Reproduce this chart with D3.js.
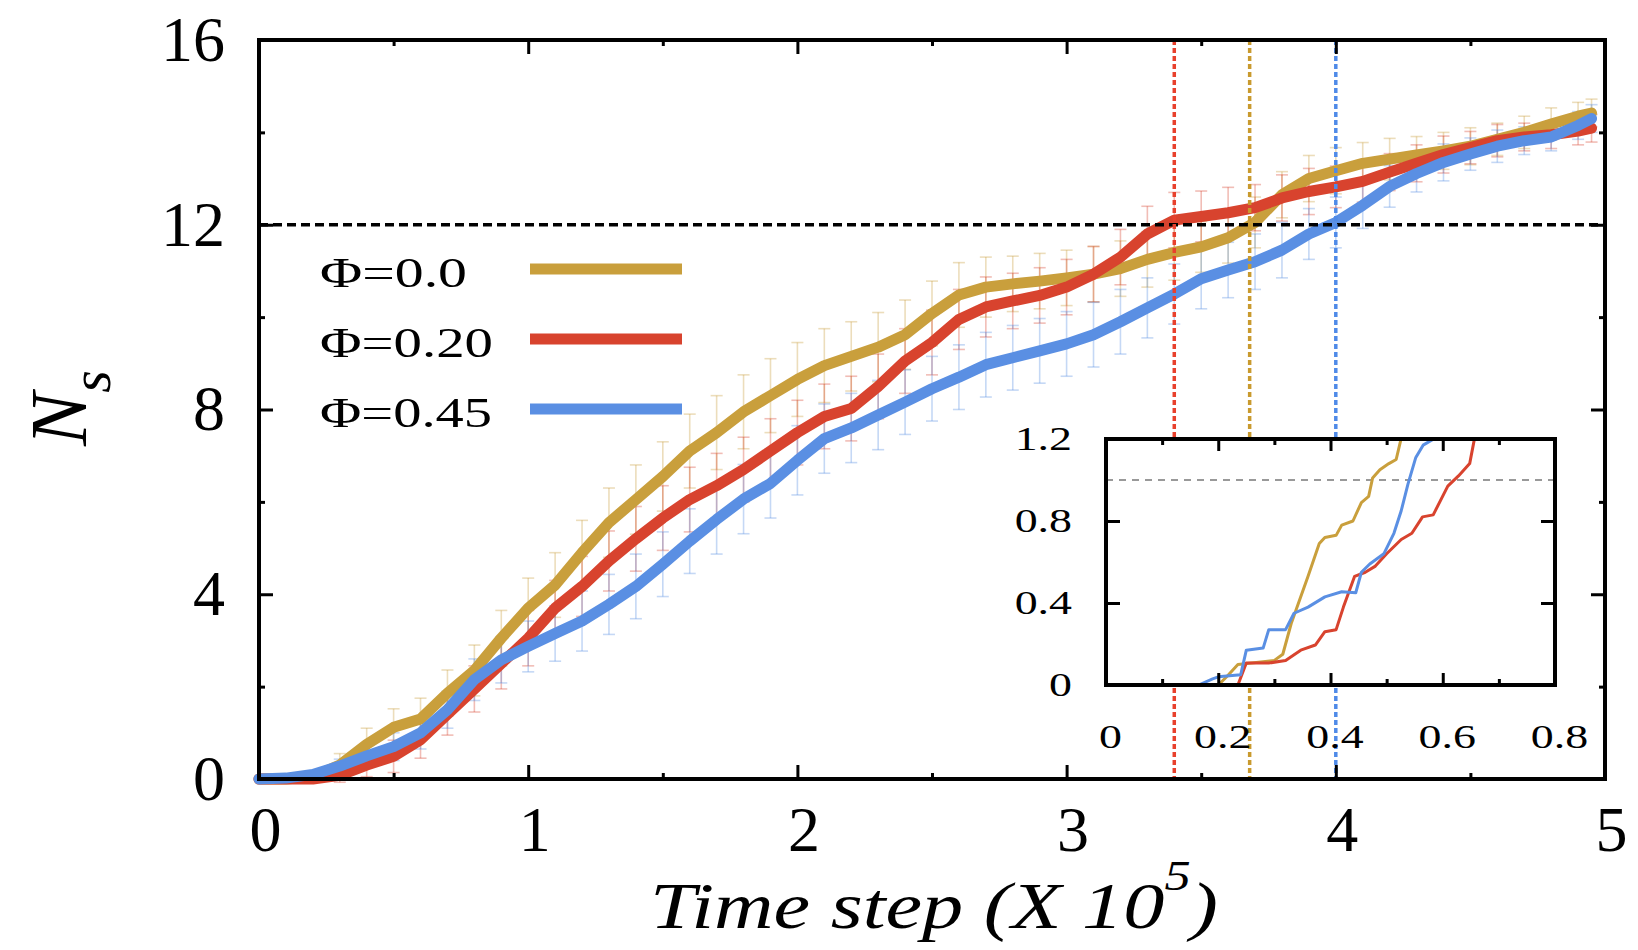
<!DOCTYPE html>
<html>
<head>
<meta charset="utf-8">
<script src="https://cdn.jsdelivr.net/npm/d3@7"></script>
<style>
body { margin: 0; background: #fff; }
svg { display: block; }
text { font-family: "Liberation Serif", "Times New Roman", serif; }
</style>
</head>
<body>
<svg id="chart"></svg>
<script>
// time steps (x 10^5)
let times = [0, 0.1, 0.2, 0.3, 0.4, 0.5, 0.6, 0.7, 0.8, 0.9,
	1.0, 1.1, 1.2, 1.3, 1.4, 1.5, 1.6, 1.7, 1.8, 1.9,
	2.0, 2.1, 2.2, 2.3, 2.4, 2.5, 2.6, 2.7, 2.8, 2.9,
	3.0, 3.1, 3.2, 3.3, 3.4, 3.5, 3.6, 3.7, 3.8, 3.9,
	4.0, 4.1, 4.2, 4.3, 4.4, 4.5, 4.6, 4.7, 4.8, 4.9, 4.95];

let seriesNames = ["Φ=0.0", "Φ=0.20", "Φ=0.45"];

let phi00 = [0, 0, 0.05, 0.3, 0.75, 1.12, 1.3, 1.86, 2.35, 3.05,
	3.7, 4.2, 4.9, 5.55, 6.05, 6.55, 7.1, 7.5, 7.95, 8.3,
	8.65, 8.95, 9.15, 9.35, 9.62, 10.08, 10.48, 10.65, 10.72, 10.78,
	10.85, 10.93, 11.05, 11.25, 11.4, 11.52, 11.72, 12.05, 12.65, 13.0,
	13.17, 13.33, 13.42, 13.51, 13.6, 13.7, 13.85, 14.0, 14.18, 14.35, 14.42];

let phi20 = [0, 0, 0, 0.08, 0.3, 0.49, 0.85, 1.4, 1.95, 2.5,
	3.05, 3.7, 4.17, 4.72, 5.2, 5.65, 6.05, 6.35, 6.7, 7.1,
	7.5, 7.85, 8.02, 8.5, 9.05, 9.45, 9.95, 10.22, 10.35, 10.47,
	10.65, 10.93, 11.3, 11.8, 12.1, 12.18, 12.26, 12.37, 12.58, 12.72,
	12.82, 12.94, 13.14, 13.33, 13.52, 13.67, 13.82, 13.9, 13.95, 14.03, 14.09];

let phi45 = [0, 0.02, 0.1, 0.28, 0.5, 0.7, 1.0, 1.5, 2.15, 2.58,
	2.87, 3.15, 3.42, 3.78, 4.17, 4.65, 5.15, 5.62, 6.06, 6.4,
	6.9, 7.37, 7.6, 7.88, 8.16, 8.45, 8.7, 8.97, 9.12, 9.27,
	9.42, 9.62, 9.9, 10.2, 10.5, 10.83, 11.02, 11.2, 11.45, 11.8,
	12.05, 12.42, 12.83, 13.11, 13.35, 13.53, 13.7, 13.82, 13.9, 14.15, 14.3];

let err00 = [0, 0, 0.1, 0.25, 0.35, 0.4, 0.45, 0.5, 0.55, 0.6,
	0.65, 0.7, 0.7, 0.75, 0.75, 0.75, 0.8, 0.8, 0.8, 0.8,
	0.8, 0.8, 0.75, 0.75, 0.75, 0.7, 0.7, 0.65, 0.6, 0.6,
	0.6, 0.6, 0.6, 0.6, 0.6, 0.55, 0.55, 0.55, 0.5, 0.5,
	0.5, 0.45, 0.45, 0.4, 0.4, 0.4, 0.35, 0.35, 0.35, 0.3, 0.3];

let err20 = [0, 0, 0.05, 0.15, 0.25, 0.35, 0.4, 0.45, 0.5, 0.55,
	0.6, 0.6, 0.65, 0.65, 0.7, 0.7, 0.7, 0.7, 0.7, 0.7,
	0.7, 0.7, 0.7, 0.7, 0.7, 0.7, 0.65, 0.65, 0.6, 0.6,
	0.6, 0.6, 0.6, 0.6, 0.6, 0.55, 0.55, 0.5, 0.5, 0.5,
	0.45, 0.45, 0.4, 0.4, 0.4, 0.35, 0.35, 0.3, 0.3, 0.3, 0.3];

let err45 = [0, 0, 0.05, 0.15, 0.25, 0.3, 0.35, 0.4, 0.45, 0.5,
	0.55, 0.6, 0.65, 0.65, 0.7, 0.7, 0.7, 0.75, 0.75, 0.75,
	0.75, 0.75, 0.75, 0.75, 0.7, 0.7, 0.7, 0.7, 0.7, 0.7,
	0.7, 0.7, 0.7, 0.65, 0.65, 0.65, 0.6, 0.6, 0.6, 0.55,
	0.55, 0.5, 0.45, 0.4, 0.4, 0.35, 0.35, 0.3, 0.3, 0.3, 0.3];

// time at which each curve reaches N_s = 12
let crossTimes = [3.68, 3.40, 4.0];
let thresholdN = 12;

// inset: early-time zoom, [time, N_s]
let insetPhi00 = [[0, 0], [0.2, 0], [0.215, 0.04], [0.235, 0.1], [0.3, 0.12], [0.315, 0.15], [0.33, 0.3],
	[0.36, 0.53], [0.38, 0.69], [0.39, 0.72], [0.41, 0.73], [0.42, 0.78], [0.44, 0.8], [0.455, 0.89],
	[0.468, 0.92], [0.475, 1.01], [0.488, 1.05], [0.504, 1.08], [0.517, 1.1], [0.53, 1.25]];
let insetPhi20 = [[0, 0], [0.235, 0], [0.25, 0.107], [0.29, 0.107], [0.32, 0.12], [0.347, 0.17], [0.373, 0.195],
	[0.39, 0.26], [0.41, 0.27], [0.423, 0.38], [0.443, 0.53], [0.462, 0.55], [0.48, 0.58], [0.5, 0.64],
	[0.526, 0.71], [0.545, 0.74], [0.564, 0.82], [0.583, 0.83], [0.609, 0.97], [0.628, 1.02],
	[0.648, 1.08], [0.655, 1.18], [0.66, 1.25]];
let insetPhi45 = [[0, 0], [0.165, 0], [0.19, 0.03], [0.2, 0.04], [0.24, 0.05], [0.25, 0.17], [0.28, 0.18],
	[0.29, 0.27], [0.32, 0.27], [0.335, 0.35], [0.36, 0.38], [0.39, 0.43], [0.42, 0.455], [0.445, 0.45],
	[0.455, 0.55], [0.47, 0.59], [0.495, 0.64], [0.513, 0.74], [0.526, 0.85], [0.538, 0.98],
	[0.552, 1.11], [0.565, 1.17], [0.59, 1.21]];
let insetThreshold = 1.0;

let xTicks = [0, 1, 2, 3, 4, 5];
let xMinor = [0.5, 1.5, 2.5, 3.5, 4.5];
let yTicks = [0, 4, 8, 12, 16];
let yMinor = [2, 6, 10, 14];
let insetXTicks = [0, 0.2, 0.4, 0.6, 0.8];
let insetXMinor = [0.1, 0.3, 0.5, 0.7];
let insetYTicks = [0, 0.4, 0.8, 1.2];

function makeChart() {
	let w = 1638;
	let h = 950;
	let plotL = 259, plotR = 1605, plotT = 40, plotB = 779;
	let colors = ['#c99f3c', '#d8432e', '#5a8fe3'];
	let guideColors = ['#c99a2e', '#e8402c', '#4f8ae8'];
	let serif = '"Liberation Serif", "Times New Roman", serif';

	let chart = d3.select('#chart')
		.attr('width', w)
		.attr('height', h);

	let xScale = d3.scaleLinear().domain([0, 5]).range([plotL, plotR]);
	let yScale = d3.scaleLinear().domain([0, 16]).range([plotB, plotT]);

	let series = [phi00, phi20, phi45].map((vals, k) => ({
		name: seriesNames[k],
		color: colors[k],
		points: times.map((t, i) => ({ t: t, v: vals[i], e: [err00, err20, err45][k][i] }))
	}));

	//error bars
	series.forEach(s => {
		let g = chart.append('g')
			.attr('stroke', s.color)
			.attr('stroke-opacity', 0.35)
			.attr('stroke-width', 1.6);
		let bars = s.points.filter(d => d.e > 0);
		g.selectAll('.bar').data(bars).enter().append('line')
			.attr('x1', d => xScale(d.t)).attr('x2', d => xScale(d.t))
			.attr('y1', d => yScale(d.v - d.e)).attr('y2', d => yScale(d.v + d.e));
		g.selectAll('.capTop').data(bars).enter().append('line')
			.attr('x1', d => xScale(d.t) - 6).attr('x2', d => xScale(d.t) + 6)
			.attr('y1', d => yScale(d.v + d.e)).attr('y2', d => yScale(d.v + d.e));
		g.selectAll('.capBot').data(bars).enter().append('line')
			.attr('x1', d => xScale(d.t) - 6).attr('x2', d => xScale(d.t) + 6)
			.attr('y1', d => yScale(d.v - d.e)).attr('y2', d => yScale(d.v - d.e));
	});

	//lines
	let line = d3.line()
		.x(d => xScale(d.t))
		.y(d => yScale(d.v));

	series.forEach(s => {
		chart.append('path')
			.datum(s.points)
			.attr('fill', 'none')
			.attr('stroke', s.color)
			.attr('stroke-width', 11)
			.attr('stroke-linejoin', 'round')
			.attr('stroke-linecap', 'round')
			.attr('d', line);
	});

	//threshold guides
	chart.append('line')
		.attr('x1', plotL).attr('x2', plotR)
		.attr('y1', yScale(thresholdN)).attr('y2', yScale(thresholdN))
		.attr('stroke', '#000')
		.attr('stroke-width', 3.5)
		.attr('stroke-dasharray', '9,5');

	chart.selectAll('.guide')
		.data(crossTimes)
		.enter()
		.append('line')
		.attr('x1', d => xScale(d)).attr('x2', d => xScale(d))
		.attr('y1', plotT).attr('y2', plotB)
		.attr('stroke', (d, i) => guideColors[i])
		.attr('stroke-width', 3.5)
		.attr('stroke-dasharray', '5,3');

	//AXES
	function styleAxis(g, fontSize) {
		g.attr('font-family', serif);
		g.select('.domain').remove();
		g.selectAll('.tick line').attr('stroke', '#000').attr('stroke-width', 3);
		g.selectAll('.tick text').attr('fill', '#000').style('font-size', fontSize + 'px');
	}

	chart.append('g')
		.attr('transform', `translate(0, ${plotB})`)
		.call(d3.axisBottom(xScale).tickValues(xTicks).tickSize(-14).tickPadding(27).tickFormat(d3.format('d')))
		.call(g => styleAxis(g, 64))
		.call(g => g.selectAll('.tick text').attr('dx', 6));
	chart.append('g')
		.attr('transform', `translate(0, ${plotB})`)
		.call(d3.axisBottom(xScale).tickValues(xMinor).tickSize(-6).tickFormat(''))
		.call(g => styleAxis(g, 10));
	chart.append('g')
		.attr('transform', `translate(0, ${plotT})`)
		.call(d3.axisTop(xScale).tickValues(xTicks).tickSize(-14).tickFormat(''))
		.call(g => styleAxis(g, 10));
	chart.append('g')
		.attr('transform', `translate(0, ${plotT})`)
		.call(d3.axisTop(xScale).tickValues(xMinor).tickSize(-6).tickFormat(''))
		.call(g => styleAxis(g, 10));

	chart.append('g')
		.attr('transform', `translate(${plotL}, 0)`)
		.call(d3.axisLeft(yScale).tickValues(yTicks).tickSize(-14).tickPadding(34).tickFormat(d3.format('d')))
		.call(g => styleAxis(g, 64));
	chart.append('g')
		.attr('transform', `translate(${plotL}, 0)`)
		.call(d3.axisLeft(yScale).tickValues(yMinor).tickSize(-6).tickFormat(''))
		.call(g => styleAxis(g, 10));
	chart.append('g')
		.attr('transform', `translate(${plotR}, 0)`)
		.call(d3.axisRight(yScale).tickValues(yTicks).tickSize(-14).tickFormat(''))
		.call(g => styleAxis(g, 10));
	chart.append('g')
		.attr('transform', `translate(${plotR}, 0)`)
		.call(d3.axisRight(yScale).tickValues(yMinor).tickSize(-6).tickFormat(''))
		.call(g => styleAxis(g, 10));

	chart.append('rect')
		.attr('x', plotL).attr('y', plotT)
		.attr('width', plotR - plotL).attr('height', plotB - plotT)
		.attr('fill', 'none')
		.attr('stroke', '#000')
		.attr('stroke-width', 4);

	//LEGEND
	let legendTop = 269;
	let legendGap = 70;
	let legendWidths = [147, 173, 172];
	series.forEach((s, i) => {
		let ly = legendTop + i * legendGap;
		chart.append('text')
			.attr('x', 320)
			.attr('y', ly + 18)
			.attr('textLength', legendWidths[i])
			.attr('lengthAdjust', 'spacingAndGlyphs')
			.style('font-size', '42px')
			.text(s.name);
		chart.append('line')
			.attr('x1', 530).attr('x2', 682)
			.attr('y1', ly).attr('y2', ly)
			.attr('stroke', s.color)
			.attr('stroke-width', 11);
	});

	//INSET
	let inL = 1106, inR = 1555, inT = 439, inB = 685;
	let ix = d3.scaleLinear().domain([0, 0.8]).range([inL, inR]);
	let iy = d3.scaleLinear().domain([0, 1.2]).range([inB, inT]);

	chart.append('rect')
		.attr('x', inL).attr('y', inT)
		.attr('width', inR - inL).attr('height', inB - inT)
		.attr('fill', '#fff');

	chart.append('clipPath').attr('id', 'insetClip')
		.append('rect')
		.attr('x', inL).attr('y', inT)
		.attr('width', inR - inL).attr('height', inB - inT);

	let inset = chart.append('g').attr('clip-path', 'url(#insetClip)');

	inset.append('line')
		.attr('x1', inL).attr('x2', inR)
		.attr('y1', iy(insetThreshold)).attr('y2', iy(insetThreshold))
		.attr('stroke', '#999')
		.attr('stroke-width', 2)
		.attr('stroke-dasharray', '7,6');

	let insetLine = d3.line()
		.x(d => ix(d[0]))
		.y(d => iy(d[1]));

	[insetPhi00, insetPhi20, insetPhi45].forEach((pts, k) => {
		inset.append('path')
			.datum(pts)
			.attr('fill', 'none')
			.attr('stroke', colors[k])
			.attr('stroke-width', 3)
			.attr('stroke-linejoin', 'round')
			.attr('d', insetLine);
	});

	let insetFmt = d => d === 0 ? '0' : d3.format('.1f')(d);
	function stretch(g) {
		g.selectAll('.tick text').each(function () {
			let len = this.getComputedTextLength();
			d3.select(this).attr('textLength', len * 1.35).attr('lengthAdjust', 'spacingAndGlyphs');
		});
	}

	chart.append('g')
		.attr('transform', `translate(0, ${inB})`)
		.call(d3.axisBottom(ix).tickValues(insetXTicks).tickSize(-12).tickPadding(39).tickFormat(insetFmt))
		.call(g => styleAxis(g, 34))
		.call(g => g.selectAll('.tick text').attr('dx', 4))
		.call(stretch);
	chart.append('g')
		.attr('transform', `translate(0, ${inB})`)
		.call(d3.axisBottom(ix).tickValues(insetXMinor).tickSize(-6).tickFormat(''))
		.call(g => styleAxis(g, 10));
	chart.append('g')
		.attr('transform', `translate(0, ${inT})`)
		.call(d3.axisTop(ix).tickValues(insetXTicks).tickSize(-12).tickFormat(''))
		.call(g => styleAxis(g, 10));
	chart.append('g')
		.attr('transform', `translate(0, ${inT})`)
		.call(d3.axisTop(ix).tickValues(insetXMinor).tickSize(-6).tickFormat(''))
		.call(g => styleAxis(g, 10));
	chart.append('g')
		.attr('transform', `translate(${inL}, 0)`)
		.call(d3.axisLeft(iy).tickValues(insetYTicks).tickSize(-14).tickPadding(34).tickFormat(insetFmt))
		.call(g => styleAxis(g, 34))
		.call(stretch);
	chart.append('g')
		.attr('transform', `translate(${inR}, 0)`)
		.call(d3.axisRight(iy).tickValues(insetYTicks).tickSize(-14).tickFormat(''))
		.call(g => styleAxis(g, 10));

	chart.append('rect')
		.attr('x', inL).attr('y', inT)
		.attr('width', inR - inL).attr('height', inB - inT)
		.attr('fill', 'none')
		.attr('stroke', '#000')
		.attr('stroke-width', 4);

	//LABELS

	//x-axis
	let xLabel = chart.append('text')
		.attr('x', 650)
		.attr('y', 928)
		.attr('textLength', 568)
		.attr('lengthAdjust', 'spacingAndGlyphs')
		.style('font-size', '66px')
		.style('font-style', 'italic');
	xLabel.append('tspan').text('Time step (X 10');
	xLabel.append('tspan').attr('dy', -38).style('font-size', '42px').text('5');
	xLabel.append('tspan').attr('dy', 38).text(')');

	//y-axis
	let yLabel = chart.append('text')
		.attr('transform', 'translate(86, 446) rotate(-90)')
		.style('font-size', '80px')
		.style('font-style', 'italic');
	yLabel.append('tspan').text('N');
	yLabel.append('tspan').attr('dy', 24).style('font-size', '58px').text('s');
}

window.onload = function () {
	makeChart();
}
</script>
</body>
</html>
